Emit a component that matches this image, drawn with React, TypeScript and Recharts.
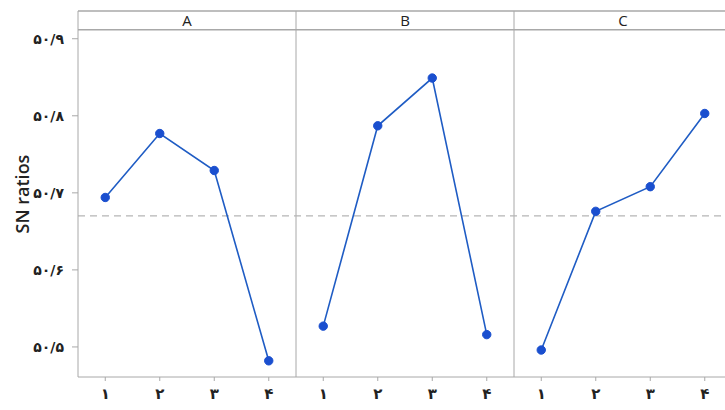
import React from 'react';
import {
  LineChart,
  Line,
  XAxis,
  YAxis,
  ReferenceLine,
  ReferenceArea,
} from 'recharts';

// level labels shown under every panel
const levels = ['۱', '۲', '۳', '۴'];
const factors = ['A', 'B', 'C'];

// mean SN ratio per level
const factorA = [50.694, 50.777, 50.729, 50.482];
const factorB = [50.527, 50.787, 50.849, 50.516];
const factorC = [50.496, 50.676, 50.708, 50.803];

const overallMean = 50.67;

const yTicks = [50.5, 50.6, 50.7, 50.8, 50.9];
const yTickLabels = ['۵۰/۵', '۵۰/۶', '۵۰/۷', '۵۰/۸', '۵۰/۹'];

// plot bottom, top of the facet strip, bottom of the facet strip
const yMin = 50.461;
const stripBottom = 50.9117;
const yMax = 50.936;

const series = [factorA, factorB, factorC];

const data = series.flatMap((vals, f) =>
  vals.map((v, i) => ({ x: f * levels.length + i + 1, [factors[f]]: v }))
);

const xTicks = data.map((d) => d.x);

const LINE = '#1f5cc4';
const DOT = '#1a4fcf';
const FRAME = '#a8a8a8';

const SideLabel = (props: any) => {
  const vb = props.viewBox || {};
  const cy = (vb.y ?? 11) + (vb.height ?? 366) / 2;
  return (
    <text
      x={22}
      y={cy}
      transform={`rotate(-90 22 ${cy})`}
      textAnchor="middle"
      dominantBaseline="central"
      fontFamily="'Open Sans', sans-serif"
      fontSize={18}
      fontWeight={600}
      fill="#222"
    >
      SN ratios
    </text>
  );
};

export default function App() {
  return (
    <div
      style={{
        position: 'fixed',
        left: 0,
        top: 0,
        width: 725,
        height: 410,
        overflow: 'hidden',
        background: '#fff',
      }}
    >
      <LineChart
        width={740}
        height={410}
        data={data}
        margin={{ top: 11, right: 8, bottom: 0, left: 0 }}
      >
        <XAxis
          dataKey="x"
          type="number"
          domain={[0.5, 12.5]}
          ticks={xTicks}
          tickFormatter={(v: number) => levels[(v - 1) % levels.length]}
          height={33}
          axisLine={{ stroke: FRAME }}
          tickLine={{ stroke: FRAME }}
          tickSize={4}
          tick={{
            fill: '#222',
            fontSize: 15,
            fontWeight: 700,
            fontFamily: "'DejaVu Sans', sans-serif",
          }}
          tickMargin={7}
        />
        <YAxis
          type="number"
          domain={[yMin, yMax]}
          ticks={yTicks}
          allowDataOverflow
          tickFormatter={(v: number) => yTickLabels[yTicks.indexOf(v)] ?? ''}
          width={78}
          axisLine={{ stroke: FRAME }}
          tickLine={{ stroke: FRAME }}
          tickSize={6}
          tickMargin={8}
          tick={{
            fill: '#222',
            fontSize: 14,
            fontWeight: 700,
            fontFamily: "'DejaVu Sans', sans-serif",
          }}
          label={<SideLabel />}
        />

        {factors.map((f, i) => (
          <ReferenceArea
            key={'strip' + f}
            x1={i * 4 + 0.5}
            x2={i * 4 + 4.5}
            y1={stripBottom}
            y2={yMax}
            fill="#fff"
            fillOpacity={1}
            stroke="none"
            label={{
              value: f,
              position: 'center',
              fill: '#222',
              fontSize: 15,
              fontFamily: "'Open Sans', sans-serif",
            }}
          />
        ))}
        <ReferenceLine y={yMax} stroke={FRAME} strokeWidth={1.5} />
        <ReferenceLine y={stripBottom} stroke={FRAME} strokeWidth={1.5} />
        <ReferenceLine x={4.5} stroke={FRAME} />
        <ReferenceLine x={8.5} stroke={FRAME} />
        <ReferenceLine
          y={overallMean}
          stroke="#b5b5b5"
          strokeDasharray="7 5"
          strokeWidth={1.2}
        />

        {factors.map((f) => (
          <Line
            key={f}
            dataKey={f}
            type="linear"
            stroke={LINE}
            strokeWidth={1.6}
            dot={{ r: 4.2, fill: DOT, stroke: DOT, strokeWidth: 1 }}
            activeDot={false}
            isAnimationActive={false}
          />
        ))}
      </LineChart>
    </div>
  );
}
